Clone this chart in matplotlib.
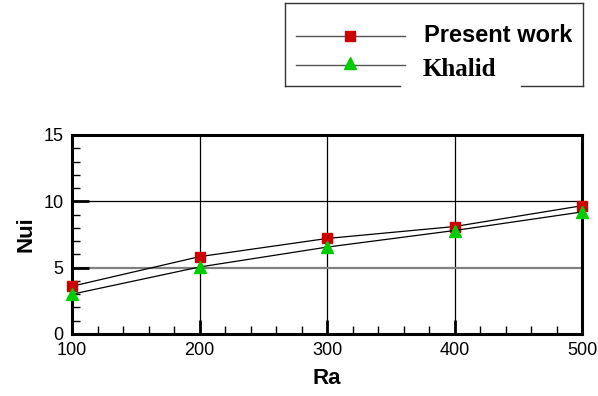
import matplotlib.pyplot as plt
from matplotlib.lines import Line2D
from matplotlib.ticker import MultipleLocator

# data
ra = [100, 200, 300, 400, 500]
present_work = [3.6, 5.83, 7.2, 8.1, 9.67]
khalid = [3.0, 5.05, 6.55, 7.8, 9.2]

W, H = 598, 396
fig = plt.figure(figsize=(W / 100, H / 100), dpi=100)


def fx(px):
    return px / W


def fy(py):
    return 1 - py / H


ax = fig.add_axes([fx(72), fy(334), fx(582) - fx(72), fy(135) - fy(334)])

sans = ['Liberation Sans', 'DejaVu Sans']
serif = ['Liberation Serif', 'DejaVu Serif']

# grid lines
for xv in [200, 300, 400]:
    ax.axvline(xv, color='black', lw=0.9, zorder=1)
ax.axhline(10, color='black', lw=0.9, zorder=1)
ax.axhline(5, color='#808080', lw=1.6, zorder=1)

ax.plot(ra, present_work, color='black', lw=0.9, marker='s', ms=7,
        mfc='#cc0000', mec='#cc0000', zorder=3, clip_on=False)
ax.plot(ra, khalid, color='black', lw=0.9, marker='^', ms=8,
        mfc='#00cc00', mec='#00cc00', zorder=3, clip_on=False)

ax.set_xlim(100, 500)
ax.set_ylim(0, 15)
ax.xaxis.set_major_locator(MultipleLocator(100))
ax.xaxis.set_minor_locator(MultipleLocator(20))
ax.yaxis.set_major_locator(MultipleLocator(5))
ax.yaxis.set_minor_locator(MultipleLocator(1))
ax.tick_params(which='major', direction='in', length=10, width=2, labelsize=13, pad=6)
ax.tick_params(which='minor', direction='in', length=6, width=1)
ax.tick_params(axis='y', which='major', length=12)
for lab in ax.get_xticklabels() + ax.get_yticklabels():
    lab.set_family(sans)
for sp in ax.spines.values():
    sp.set_linewidth(2.2)

ax.set_xlabel('Ra', fontsize=16, fontweight='bold', family=sans, labelpad=6)
ax.set_ylabel('Nui', fontsize=16, fontweight='bold', family=sans, labelpad=5)

# legend box, drawn by hand with the gap under "Khalid"
box = dict(color='#333333', lw=1.0)
fig.add_artist(Line2D([fx(285), fx(583)], [fy(3), fy(3)], **box))
fig.add_artist(Line2D([fx(285), fx(285)], [fy(3), fy(86)], **box))
fig.add_artist(Line2D([fx(583), fx(583)], [fy(3), fy(86)], **box))
fig.add_artist(Line2D([fx(285), fx(400)], [fy(86), fy(86)], **box))
fig.add_artist(Line2D([fx(521), fx(583)], [fy(86), fy(86)], **box))

fig.add_artist(Line2D([fx(296), fx(405)], [fy(36), fy(36)], color='#555555', lw=1.0))
fig.add_artist(Line2D([fx(350)], [fy(36)], marker='s', ms=7, color='#cc0000', lw=0))
fig.add_artist(Line2D([fx(296), fx(405)], [fy(65), fy(65)], color='#555555', lw=1.0))
fig.add_artist(Line2D([fx(350)], [fy(63)], marker='^', ms=8, color='#00cc00', lw=0))

fig.text(fx(424), fy(36), 'Present work', fontsize=17, fontweight='bold',
         family=sans, va='center', ha='left')
fig.text(fx(423), fy(69), 'Khalid', fontsize=18, fontweight='bold',
         family=serif, va='center', ha='left')

fig.savefig('out.png', dpi=100)
